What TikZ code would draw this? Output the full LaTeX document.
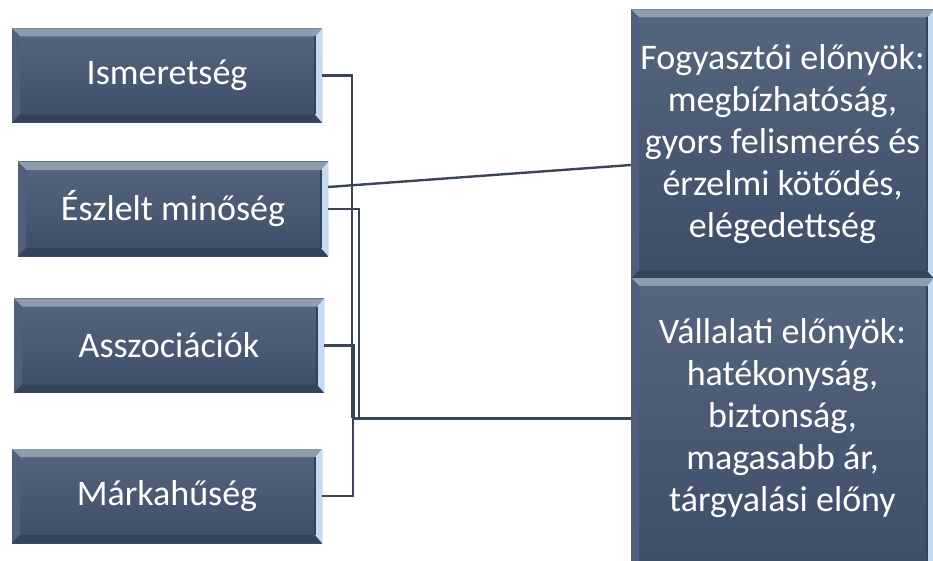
\documentclass[tikz,border=0pt]{standalone}
\usepackage{fontspec}
\setmainfont{Carlito}
\definecolor{boxtop}{HTML}{56667E}
\definecolor{boxbot}{HTML}{3D4D68}
\definecolor{bevlight}{HTML}{8E9CB0}
\definecolor{bevside}{HTML}{50607A}
\definecolor{bevdark}{HTML}{34425A}
\definecolor{bevshine}{HTML}{C4DAF0}
\definecolor{wire}{HTML}{3A4558}
\tikzset{
  boxtext/.style={text=white, align=center, font=\fontsize{36}{42}\selectfont},
  bevbox/.style={rectangle, inner sep=0pt, top color=boxtop, bottom color=boxbot, boxtext,
    path picture={
      \fill[bevlight] (path picture bounding box.north west) -- (path picture bounding box.north east)
        -- ([xshift=-8pt,yshift=-8pt]path picture bounding box.north east)
        -- ([xshift=8pt,yshift=-8pt]path picture bounding box.north west) -- cycle;
      \fill[bevside] (path picture bounding box.north west) -- ([xshift=8pt,yshift=-8pt]path picture bounding box.north west)
        -- ([xshift=8pt,yshift=8pt]path picture bounding box.south west) -- (path picture bounding box.south west) -- cycle;
      \fill[bevdark] (path picture bounding box.south west) -- ([xshift=8pt,yshift=8pt]path picture bounding box.south west)
        -- ([xshift=-8pt,yshift=8pt]path picture bounding box.south east) -- (path picture bounding box.south east) -- cycle;
      \fill[bevshine] (path picture bounding box.north east) -- ([xshift=-7pt,yshift=-8pt]path picture bounding box.north east)
        -- ([xshift=-7pt,yshift=8pt]path picture bounding box.south east) -- (path picture bounding box.south east) -- cycle;
      \draw[bevdark, line width=1.2pt] ([xshift=-7pt,yshift=-8pt]path picture bounding box.north east)
        -- ([xshift=-7pt,yshift=8pt]path picture bounding box.south east);
    }},
  leftbox/.style={bevbox, minimum width=310pt, minimum height=94pt},
  wire/.style={draw=wire, line width=2.4pt}
}
\begin{document}
\begin{tikzpicture}[x=1pt, y=-1pt]
  \useasboundingbox (0,0) rectangle (933,561);
  \clip (0,0) rectangle (933,561);
  % left boxes
  \node[leftbox] (isme) at (167,75.5) {Ismeretség};
  \node[leftbox] (eszl) at (173,209) {Észlelt minőség};
  \node[leftbox] (assz) at (169,345.5) {Asszociációk};
  \node[leftbox] (mark) at (167,496) {Márkahűség};
  % right boxes
  \node[bevbox, minimum width=303pt, minimum height=269pt] (fogy) at (782.5,144)
    {Fogyasztói előnyök:\\megbízhatóság,\\gyors felismerés és\\érzelmi kötődés,\\elégedettség};
  \node[bevbox, minimum width=303pt, minimum height=302pt,
    label={[boxtext, yshift=11pt]center:{Vállalati előnyök:\\hatékonyság,\\biztonság,\\magasabb ár,\\tárgyalási előny}}]
    (vall) at (782.5,429) {};
  % junction points
  \coordinate (jn) at (352,418);
  \coordinate (j2) at (359,418);
  \coordinate (j3) at (354,418);
  \coordinate (j4) at (353,418);
  % connectors
  \draw[wire] (isme.east) -| (jn);
  \draw[wire] (eszl.east) -| (j2);
  \draw[wire] (assz.east) -| (j3);
  \draw[wire] (mark.east) -| (j4);
  \draw[wire, line width=3pt] (jn) -- (jn -| vall.west);
  \draw[wire] ([yshift=22pt]eszl.east) -- ([yshift=-21pt]fogy.west);
\end{tikzpicture}
\end{document}
